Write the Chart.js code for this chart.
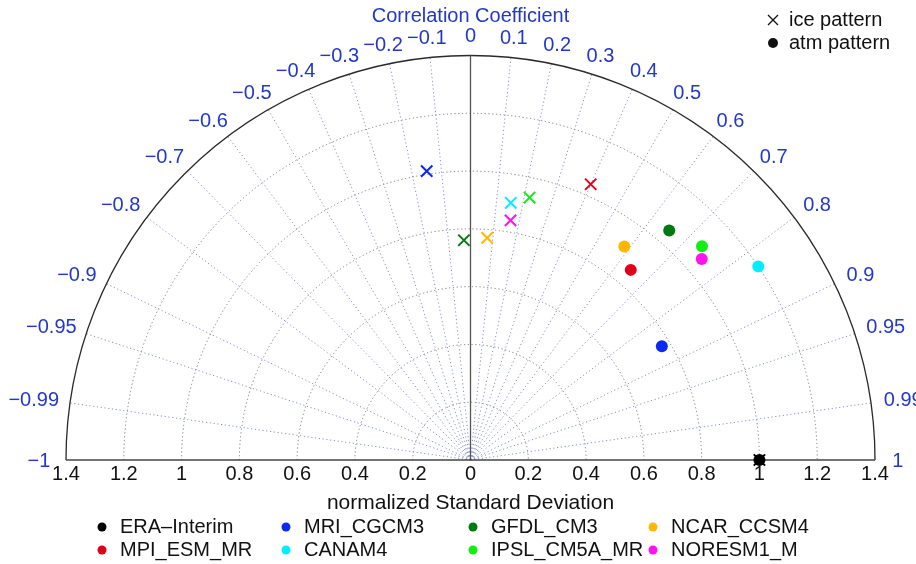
<!DOCTYPE html>
<html>
<head>
<meta charset="utf-8">
<script src="https://cdn.jsdelivr.net/npm/chart.js@4.4.1/dist/chart.umd.min.js"></script>
<style>
	html, body { margin: 0; padding: 0; background: #fff; }
	#wrap { width: 916px; height: 564px; }
</style>
</head>
<body>
<div id="wrap"><canvas id="taylor" width="916" height="564"></canvas></div>
<script>
// models and their colours
var models = ["ERA\u2013Interim", "MRI_CGCM3", "GFDL_CM3", "NCAR_CCSM4", "MPI_ESM_MR", "CANAM4", "IPSL_CM5A_MR", "NORESM1_M"];
var modelColors = ["#000000", "#0a2af2", "#007a10", "#ffb700", "#e0001c", "#00eeff", "#12ee12", "#ff14f0"];

// ice pattern: normalized std and correlation
var iceStd = [1.00, 1.01, 0.76, 0.77, 1.04, 0.90, 0.93, 0.84];
var iceCorr = [1.00, -0.15, -0.03, 0.075, 0.40, 0.155, 0.22, 0.165];

// atm pattern: normalized std and correlation
var atmStd = [1.00, 0.77, 1.05, 0.91, 0.86, 1.20, 1.09, 1.06];
var atmCorr = [1.00, 0.86, 0.655, 0.585, 0.645, 0.83, 0.735, 0.755];

// axis ticks
var stdTicks = [0, 0.2, 0.4, 0.6, 0.8, 1, 1.2, 1.4];
var corrTicks = [-1, -0.99, -0.95, -0.9, -0.8, -0.7, -0.6, -0.5, -0.4, -0.3, -0.2, -0.1, 0,
	0.1, 0.2, 0.3, 0.4, 0.5, 0.6, 0.7, 0.8, 0.9, 0.95, 0.99, 1];
var stdMax = 1.4;

var FONT = "'Liberation Sans', Arial, sans-serif";
var BLUE = "#2338c8";

function polar(std, corr) {
	return { x: std * corr, y: std * Math.sqrt(Math.max(0, 1 - corr * corr)) };
}

function fmt(v) {
	var s = String(Math.abs(v));
	return v < 0 ? "\u2212" + s : s;
}

var datasets = [];
for (var i = 0; i < models.length; i++) {
	datasets.push({
		label: models[i] + " atm",
		data: [polar(atmStd[i], atmCorr[i])],
		pointStyle: "circle",
		pointRadius: 6,
		backgroundColor: modelColors[i],
		borderColor: modelColors[i],
		borderWidth: 0,
		clip: false
	});
}
for (var j = 0; j < models.length; j++) {
	datasets.push({
		label: models[j] + " ice",
		data: [polar(iceStd[j], iceCorr[j])],
		pointStyle: "crossRot",
		pointRadius: 8,
		borderColor: modelColors[j],
		borderWidth: 2,
		clip: false
	});
}

var taylorPlugin = {
	id: "taylor",
	beforeDatasetsDraw: function(chart) {
		var ctx = chart.ctx;
		var sx = chart.scales.x, sy = chart.scales.y;
		var cx = sx.getPixelForValue(0), cy = sy.getPixelForValue(0);
		var R = sx.getPixelForValue(stdMax) - cx;
		ctx.save();

		// std arcs
		ctx.setLineDash([1.2, 2.6]);
		ctx.lineWidth = 1;
		ctx.strokeStyle = "#7a7a7a";
		stdTicks.forEach(function(s) {
			if (s <= 0 || s >= stdMax) return;
			var r = sx.getPixelForValue(s) - cx;
			ctx.beginPath();
			ctx.arc(cx, cy, r, Math.PI, 2 * Math.PI);
			ctx.stroke();
		});

		// correlation rays
		ctx.strokeStyle = "#8790c8";
		corrTicks.forEach(function(c) {
			if (c === 0 || Math.abs(c) === 1) return;
			var a = Math.acos(c);
			ctx.beginPath();
			ctx.moveTo(cx, cy);
			ctx.lineTo(cx + R * Math.cos(a), cy - R * Math.sin(a));
			ctx.stroke();
		});
		ctx.setLineDash([]);

		// outer arc
		ctx.strokeStyle = "#2a2a2a";
		ctx.lineWidth = 1.3;
		ctx.beginPath();
		ctx.arc(cx, cy, R, Math.PI, 2 * Math.PI);
		ctx.stroke();

		// zero correlation line and base line
		ctx.strokeStyle = "#555";
		ctx.lineWidth = 1.3;
		ctx.beginPath();
		ctx.moveTo(cx, cy);
		ctx.lineTo(cx, cy - R);
		ctx.stroke();
		ctx.strokeStyle = "#444";
		ctx.beginPath();
		ctx.moveTo(cx - R, cy);
		ctx.lineTo(cx + R, cy);
		ctx.stroke();
		ctx.restore();
	},
	afterDatasetsDraw: function(chart) {
		var ctx = chart.ctx;
		var sx = chart.scales.x, sy = chart.scales.y;
		var cx = sx.getPixelForValue(0), cy = sy.getPixelForValue(0);
		var R = sx.getPixelForValue(stdMax) - cx;
		ctx.save();

		// std tick labels on both sides
		ctx.font = "20px " + FONT;
		ctx.fillStyle = "#111";
		ctx.textAlign = "center";
		ctx.textBaseline = "middle";
		stdTicks.forEach(function(s) {
			ctx.fillText(String(s), sx.getPixelForValue(s), cy + 14);
			if (s > 0) ctx.fillText(String(s), sx.getPixelForValue(-s), cy + 14);
		});
		ctx.font = "21px " + FONT;
		ctx.fillText("normalized Standard Deviation", cx, cy + 43);

		// correlation labels around the arc
		ctx.font = "20px " + FONT;
		ctx.fillStyle = BLUE;
		corrTicks.forEach(function(c) {
			var a = Math.acos(c);
			var txt = fmt(c);
			var w = ctx.measureText(txt).width;
			var rho = R + 19;
			var px = cx + rho * Math.cos(a) + (w / 2) * Math.cos(a) * 0.7;
			var py = cy - rho * Math.sin(a);
			if (Math.abs(c) === 1) py += 1;
			ctx.fillText(txt, px, py);
		});
		ctx.fillText("Correlation Coefficient", cx, 16);

		// marker legend, top right
		ctx.fillStyle = "#111";
		ctx.strokeStyle = "#111";
		ctx.lineWidth = 1.3;
		ctx.textAlign = "left";
		ctx.beginPath();
		ctx.moveTo(768, 15); ctx.lineTo(778, 25);
		ctx.moveTo(778, 15); ctx.lineTo(768, 25);
		ctx.stroke();
		ctx.fillText("ice pattern", 789, 20);
		ctx.beginPath();
		ctx.arc(773, 43, 5, 0, 2 * Math.PI);
		ctx.fill();
		ctx.fillText("atm pattern", 789, 43);

		// model legend, bottom
		var colX = [102, 286, 473, 653];
		var rowY = [527, 550];
		for (var k = 0; k < models.length; k++) {
			var x0 = colX[k % 4], y0 = rowY[Math.floor(k / 4)];
			ctx.fillStyle = modelColors[k];
			ctx.beginPath();
			ctx.arc(x0, y0, 4.5, 0, 2 * Math.PI);
			ctx.fill();
			ctx.fillStyle = "#111";
			ctx.fillText(models[k], x0 + 18, y0);
		}
		ctx.restore();
	}
};

new Chart("taylor", {
	type: "scatter",
	data: { datasets: datasets },
	options: {
		responsive: false,
		animation: false,
		layout: { padding: { left: 66, right: 41, top: 55, bottom: 104 } },
		scales: {
			x: { type: "linear", min: -stdMax, max: stdMax, display: false },
			y: { type: "linear", min: 0, max: stdMax, display: false }
		},
		plugins: {
			legend: { display: false },
			tooltip: { enabled: false }
		}
	},
	plugins: [taylorPlugin]
});
</script>
</body>
</html>
